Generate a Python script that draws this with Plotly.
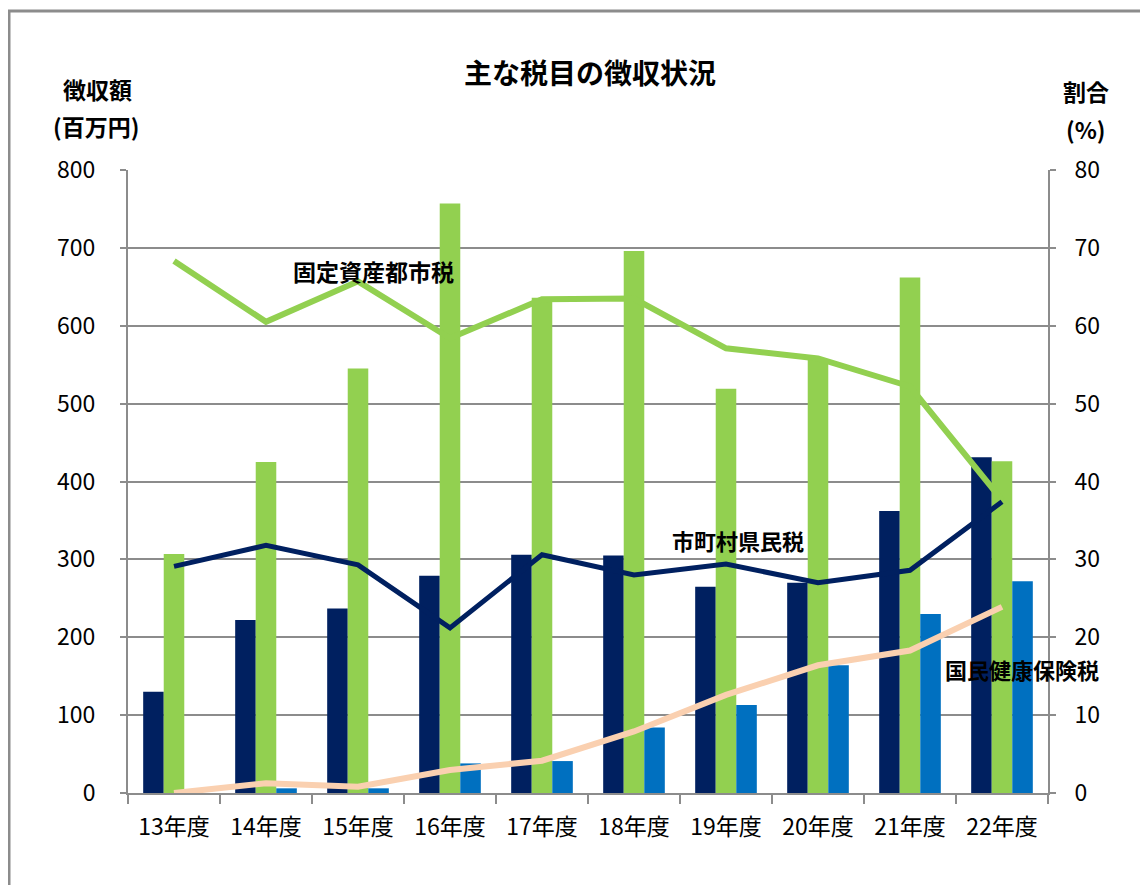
import plotly.graph_objects as go

years = ["13年度", "14年度", "15年度", "16年度", "17年度", "18年度", "19年度", "20年度", "21年度", "22年度"]

# 徴収額 (百万円)
kenmin_amt = [130, 222, 237, 279, 306, 305, 265, 270, 362, 431]
kotei_amt = [307, 425, 545, 757, 636, 696, 519, 557, 662, 426]
kokuho_amt = [0, 6, 6, 38, 41, 84, 113, 164, 230, 272]

# 割合 (%)
kotei_pct = [68.3, 60.5, 65.7, 58.4, 63.4, 63.5, 57.1, 55.8, 52.2, 37.6]
kenmin_pct = [29.1, 31.8, 29.3, 21.2, 30.6, 28.0, 29.4, 27.0, 28.6, 37.4]
kokuho_pct = [0.0, 1.25, 0.8, 2.95, 4.15, 7.9, 12.6, 16.4, 18.3, 23.9]

NAVY = "#002060"
GREEN = "#92D050"
BLUE = "#0070C0"
PEACH = "#FAD0B0"
GRID = "#8C8C8C"
FONT = "Liberation Sans Narrow, Noto Sans CJK JP, sans-serif"
BFONT = "Noto Sans CJK JP, sans-serif"

fig = go.Figure()
fig.add_bar(x=years, y=kenmin_amt, name="市町村県民税", marker=dict(color=NAVY, line=dict(width=0)))
fig.add_bar(x=years, y=kotei_amt, name="固定資産都市税", marker=dict(color=GREEN, line=dict(width=0)))
fig.add_bar(x=years, y=kokuho_amt, name="国民健康保険税", marker=dict(color=BLUE, line=dict(width=0)))

fig.add_scatter(x=years, y=kotei_pct, yaxis="y2", mode="lines",
                line=dict(color=GREEN, width=6), name="固定資産都市税 割合")
fig.add_scatter(x=years, y=kenmin_pct, yaxis="y2", mode="lines",
                line=dict(color=NAVY, width=5), name="市町村県民税 割合")
fig.add_scatter(x=years, y=kokuho_pct, yaxis="y2", mode="lines",
                line=dict(color=PEACH, width=6), name="国民健康保険税 割合")

# page body has an 8px margin, so the figure is shifted by OFF
OFF = 8
W, H = 1148 - OFF, 885 - OFF
L, T = 128 - OFF, 170 - OFF
R = W - (1048 - OFF)
B = H - (793 - OFF)
pw, ph = W - L - R, H - T - B

def px(x):
    return (x - OFF - L) / pw

def py(y):
    return (H - B - (y - OFF)) / ph

annotations = [
    dict(text="<b>主な税目の徴収状況</b>", x=px(590), y=py(72), font=dict(size=28, family=BFONT, color="black")),
    dict(text="<b>徴収額</b>", x=px(97), y=py(89), font=dict(size=23, family=BFONT, color="black")),
    dict(text="<b>(百万円)</b>", x=px(96), y=py(126), font=dict(size=23, family=BFONT, color="black")),
    dict(text="<b>割合</b>", x=px(1086), y=py(91), font=dict(size=23, family=BFONT, color="black")),
    dict(text="<b>(%)</b>", x=px(1086), y=py(129), font=dict(size=23, family=BFONT, color="black")),
    dict(text="<b>固定資産都市税</b>", x=px(373), y=py(271), font=dict(size=23, family=BFONT, color="black")),
    dict(text="<b>市町村県民税</b>", x=px(738), y=py(540), font=dict(size=22, family=BFONT, color="black")),
    dict(text="<b>国民健康保険税</b>", x=px(1022), y=py(669), font=dict(size=22, family=BFONT, color="black")),
]
for a in annotations:
    a.update(xref="paper", yref="paper", showarrow=False, xanchor="center", yanchor="middle")

fig.update_layout(
    width=W, height=H,
    margin=dict(l=L, r=R, t=T, b=B),
    paper_bgcolor="white", plot_bgcolor="white",
    barmode="group", bargap=0.33, bargroupgap=0,
    showlegend=False,
    annotations=annotations,
    shapes=[dict(type="rect", xref="paper", yref="paper",
                 x0=px(9), x1=px(1200), y0=py(940), y1=py(11),
                 line=dict(color=GRID, width=3), fillcolor="rgba(0,0,0,0)", layer="below")],
    xaxis=dict(
        type="category", tickson="boundaries", ticks="outside", ticklen=9, tickwidth=2, tickcolor=GRID,
        showline=True, linecolor=GRID, linewidth=2, showgrid=False,
        tickfont=dict(size=23, family=FONT, color="black"), ticklabelstandoff=12,
    ),
    yaxis=dict(
        range=[0, 800], dtick=100, showgrid=True, gridcolor=GRID, gridwidth=2,
        showline=True, linecolor=GRID, linewidth=2, ticks="outside", ticklen=6, tickwidth=2, tickcolor=GRID,
        tickfont=dict(size=23, family=FONT, color="black"), ticklabelstandoff=20, zeroline=False,
    ),
    yaxis2=dict(
        range=[0, 80], dtick=10, overlaying="y", side="right", showgrid=False,
        showline=True, linecolor=GRID, linewidth=2, ticks="outside", ticklen=6, tickwidth=2, tickcolor=GRID,
        tickfont=dict(size=23, family=FONT, color="black"), ticklabelstandoff=14, zeroline=False,
    ),
)

fig.write_html("out.html")
